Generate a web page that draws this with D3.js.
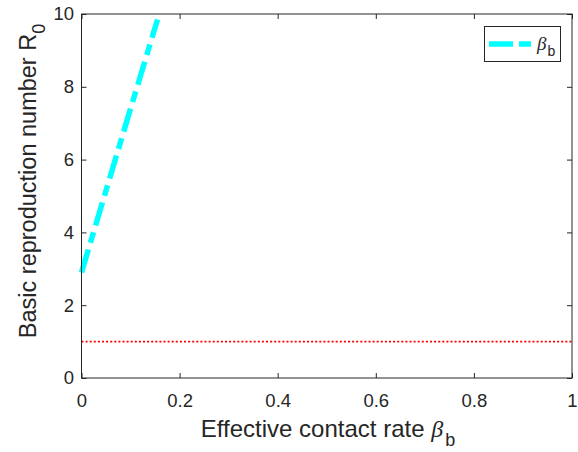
<!DOCTYPE html>
<html>
<head>
<meta charset="utf-8">
<script src="https://cdn.jsdelivr.net/npm/d3@7"></script>
<style>
  body { margin: 0; background: #fff; }
  svg { font-family: "Liberation Sans", Arial, sans-serif; }
</style>
</head>
<body>
<div id="drawing"></div>
<script>
// values
const betaB = [0, 0.05, 0.1, 0.155];
const R0 = [2.9, 5.15, 7.4, 9.85];
const threshold = 1;
const xTicks = [0, 0.2, 0.4, 0.6, 0.8, 1];
const yTicks = [0, 2, 4, 6, 8, 10];

const W = 578, H = 452;
const plotLeft = 81.5, plotRight = 572, plotTop = 14, plotBottom = 378;
const axisColor = "#262626";

const svg = d3.select("#drawing").append("svg")
  .attr("width", W).attr("height", H);

const x = d3.scaleLinear().domain([0, 1]).range([plotLeft, plotRight]);
const y = d3.scaleLinear().domain([0, 10]).range([plotBottom, plotTop]);

// threshold line R0 = 1
svg.append("line")
  .attr("x1", x(0)).attr("x2", x(1))
  .attr("y1", y(threshold)).attr("y2", y(threshold))
  .attr("stroke", "#ff0000")
  .attr("stroke-width", 1.6)
  .attr("stroke-dasharray", "2,2.1");

// R0 vs beta_b
const line = d3.line().x((d, i) => x(betaB[i])).y(d => y(d));
svg.append("path")
  .datum(R0)
  .attr("d", line)
  .attr("fill", "none")
  .attr("stroke", "#00ffff")
  .attr("stroke-width", 5.5)
  .attr("stroke-dasharray", "24,7,11,7");

// axes
const xAxis = d3.axisBottom(x).tickValues(xTicks).tickSize(-5).tickPadding(16)
  .tickFormat(d => d === 0 || d === 1 ? d3.format("d")(d) : d3.format(".1f")(d));
const xTop = d3.axisTop(x).tickValues(xTicks).tickSize(-5).tickFormat("");
const yAxis = d3.axisLeft(y).tickValues(yTicks).tickSize(-5).tickPadding(7.5);
const yRight = d3.axisRight(y).tickValues(yTicks).tickSize(-5).tickFormat("");

function style(g) {
  g.select(".domain").remove();
  g.selectAll(".tick line").attr("stroke", axisColor);
  g.selectAll(".tick text").attr("fill", axisColor)
    .style("font-size", "18.5px").style("font-family", "'Liberation Sans', Arial, sans-serif");
}

svg.append("g").attr("transform", `translate(0,${plotBottom})`).call(xAxis).call(style);
svg.append("g").attr("transform", `translate(0,${plotTop})`).call(xTop).call(style);
svg.append("g").attr("transform", `translate(${plotLeft},0)`).call(yAxis).call(style);
svg.append("g").attr("transform", `translate(${plotRight},0)`).call(yRight).call(style);

svg.append("rect")
  .attr("x", plotLeft).attr("y", plotTop)
  .attr("width", plotRight - plotLeft).attr("height", plotBottom - plotTop)
  .attr("fill", "none")
  .attr("stroke", axisColor)
  .attr("stroke-width", 1);

// axis labels
const greekFont = "'Liberation Serif', 'DejaVu Serif', serif";
const xl = svg.append("text")
  .attr("x", 328).attr("y", 437)
  .attr("text-anchor", "middle")
  .attr("fill", axisColor)
  .style("font-size", "24px");
xl.append("tspan").text("Effective contact rate ");
xl.append("tspan").attr("font-family", greekFont)
  .attr("font-style", "italic").text("β");
xl.append("tspan").attr("dx", 2).attr("dy", 9).style("font-size", "18px").text("b");

const yl = svg.append("text")
  .attr("transform", "translate(36,181) rotate(-90)")
  .attr("text-anchor", "middle")
  .attr("fill", axisColor)
  .style("font-size", "23.5px");
yl.append("tspan").text("Basic reproduction number R");
yl.append("tspan").attr("dy", 9).style("font-size", "18px").text("0");

// legend
const lg = svg.append("g");
lg.append("rect")
  .attr("x", 484.5).attr("y", 26.5).attr("width", 76).attr("height", 35)
  .attr("fill", "#fff").attr("stroke", axisColor).attr("stroke-width", 1);
lg.append("line")
  .attr("x1", 489).attr("x2", 531).attr("y1", 44).attr("y2", 44)
  .attr("stroke", "#00ffff").attr("stroke-width", 5.5)
  .attr("stroke-dasharray", "24,6,12,6");
const lt = lg.append("text")
  .attr("x", 537).attr("y", 50)
  .attr("fill", axisColor)
  .style("font-size", "19px");
lt.append("tspan").attr("font-family", greekFont)
  .attr("font-style", "italic").text("β");
lt.append("tspan").attr("dx", 1).attr("dy", 6).style("font-size", "14px").text("b");
</script>
</body>
</html>
